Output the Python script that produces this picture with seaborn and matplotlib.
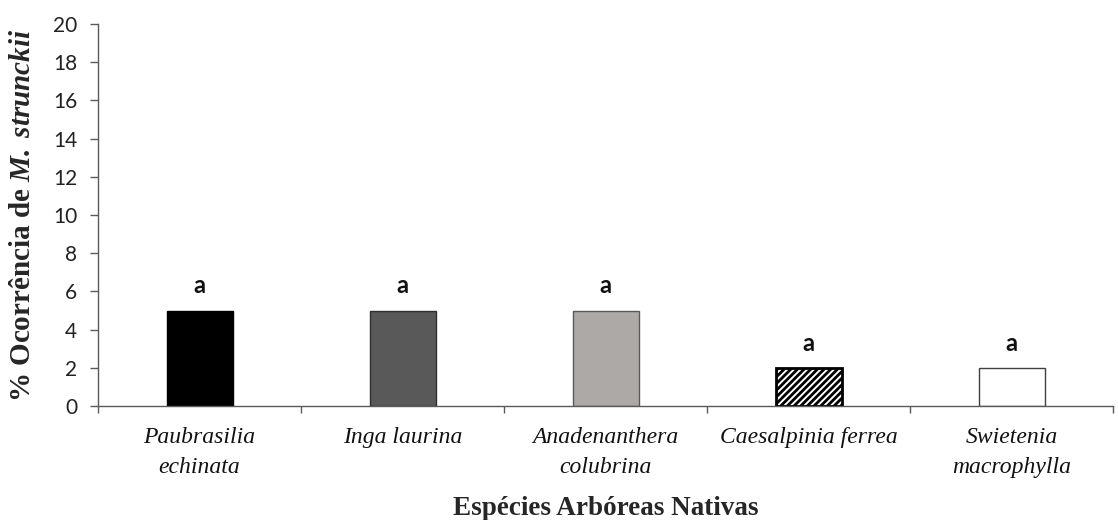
import matplotlib
matplotlib.use("Agg")
import matplotlib.pyplot as plt
import pandas as pd
import seaborn as sns
from matplotlib.ticker import FixedLocator, MultipleLocator

# dados
especies = ["Paubrasilia\nechinata", "Inga laurina", "Anadenanthera\ncolubrina",
            "Caesalpinia ferrea", "Swietenia\nmacrophylla"]
ocorrencia = [5, 5, 5, 2, 2]
letras = ["a", "a", "a", "a", "a"]

cores = ["#000000", "#595959", "#ada9a7", "#ffffff", "#ffffff"]
bordas = ["#000000", "#2e2e2e", "#595959", "#000000", "#404040"]
hachuras = ["", "", "", "/////", ""]

df = pd.DataFrame({"especie": especies, "ocorrencia": ocorrencia})

sns.set_style("white")
plt.rcParams["hatch.linewidth"] = 2.0
plt.rcParams["mathtext.fontset"] = "custom"
plt.rcParams["mathtext.rm"] = "Liberation Serif:bold"
plt.rcParams["mathtext.bfit"] = "Liberation Serif:italic:bold"
plt.rcParams["mathtext.it"] = "Liberation Serif:italic:bold"

eixo_cor = "#5a5a5a"

fig = plt.figure(figsize=(11.18, 5.2), dpi=100)
ax = fig.add_axes([0.0877, 0.219, 0.908, 0.735])

sns.barplot(data=df, x="especie", y="ocorrencia", hue="especie", palette=cores,
            legend=False, width=0.325, saturation=1, ax=ax)

for barra, borda, hach in zip(ax.patches, bordas, hachuras):
    barra.set_edgecolor(borda)
    barra.set_linewidth(1.0)
    if hach:
        barra.set_hatch(hach)
        barra.set_linewidth(2.0)

# letras acima das barras
for i, (v, l) in enumerate(zip(ocorrencia, letras)):
    ax.text(i, v + 1.3, l, ha="center", va="center", fontsize=17,
            fontweight="bold", family="Lato", color="#111111")

ax.set_ylim(0, 20)
ax.set_xlim(-0.5, len(especies) - 0.5)
ax.yaxis.set_major_locator(MultipleLocator(2))
ax.xaxis.set_minor_locator(FixedLocator([i - 0.5 for i in range(len(especies) + 1)]))

sns.despine(ax=ax)
for lado in ["left", "bottom"]:
    ax.spines[lado].set_color(eixo_cor)
    ax.spines[lado].set_linewidth(1.0)

ax.tick_params(axis="y", left=True, direction="out", length=6, width=1,
               color=eixo_cor, pad=9, labelsize=15)
ax.tick_params(axis="x", which="major", bottom=False, length=0, pad=15)
ax.tick_params(axis="x", which="minor", bottom=True, direction="out", length=5,
               width=1, color=eixo_cor)

for t in ax.get_yticklabels():
    t.set_family("Lato")
    t.set_color("#222222")

ax.set_xticks(range(len(especies)))
ax.set_xticklabels(especies, fontsize=17, style="italic", family="Liberation Serif",
                   linespacing=1.55, color="#111111")

ax.set_xlabel("Espécies Arbóreas Nativas", fontsize=19.5, fontweight="bold",
              family="Liberation Serif", labelpad=13)
ax.set_ylabel(r"% Ocorrência de $\mathbfit{M.\;strunckii}$", fontsize=21,
              fontweight="bold", family="Liberation Serif", labelpad=12)

fig.savefig("out.png", dpi=100)
